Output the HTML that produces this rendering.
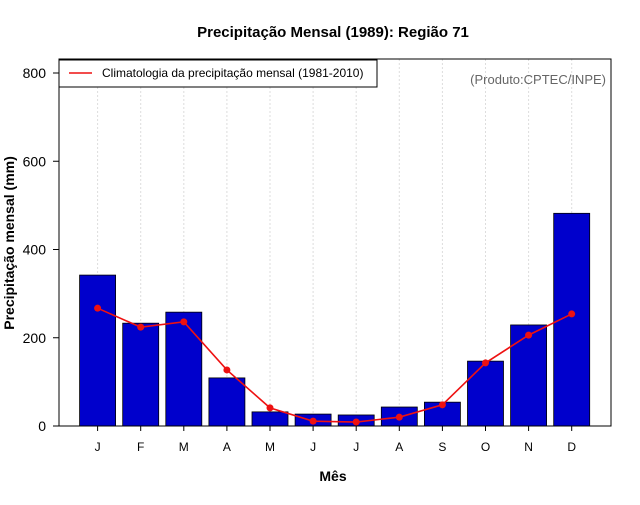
<!DOCTYPE html>
<html><head><meta charset="utf-8"><style>
body{margin:0;background:#fff;}
svg text{font-family:"Liberation Sans",Arial,sans-serif;}
</style></head><body>
<svg id="chart" width="640" height="500" xmlns="http://www.w3.org/2000/svg">
<text x="333" y="37" text-anchor="middle" font-size="15" font-weight="bold">Precipitação Mensal (1989): Região 71</text>
<g id="grid"></g>
<g id="bars"></g>
<g id="line"></g>
<rect x="59" y="59" width="552" height="367" fill="none" stroke="#000" stroke-width="1"/>
<g id="yaxis"></g>
<g id="xaxis"></g>
<text x="333" y="481" text-anchor="middle" font-size="14" font-weight="bold">Mês</text>
<text transform="translate(14,243) rotate(-90)" text-anchor="middle" font-size="14" font-weight="bold">Precipitação mensal (mm)</text>
<g>
<rect x="59" y="60" width="318" height="27" fill="#fff" stroke="#000"/>
<line x1="69" y1="73" x2="92" y2="73" stroke="#ee1111" stroke-width="1.5"/>
<text x="102" y="77" font-size="12">Climatologia da precipitação mensal (1981-2010)</text>
</g>
<text x="606" y="84" text-anchor="end" font-size="13" fill="#666">(Produto:CPTEC/INPE)</text>
</svg>
<script>
const months=['J','F','M','A','M','J','J','A','S','O','N','D'];
const observed=[342,233,258,109,32,27,25,43,54,147,229,482];
const climatology=[267,224,236,127,41,11,9,20,48,143,206,254];
const yTicks=[0,200,400,600,800];
const NS='http://www.w3.org/2000/svg';
const x=i=>97.6+i*43.1;
const y=v=>426-v*(353/800);
function mk(tag,attrs,parent){const e=document.createElementNS(NS,tag);for(const k in attrs)e.setAttribute(k,attrs[k]);parent.appendChild(e);return e;}
const grid=document.getElementById('grid'),bars=document.getElementById('bars'),line=document.getElementById('line'),ya=document.getElementById('yaxis'),xa=document.getElementById('xaxis');
months.forEach((m,i)=>{
 const g=mk('line',{x1:x(i),x2:x(i),y1:59,y2:426,stroke:'#ddd','stroke-dasharray':'2,2'},grid);
 
 
 const b=mk('rect',{x:x(i)-18,y:y(observed[i]),width:36,height:426-y(observed[i]),fill:'#0000cc',stroke:'#000','stroke-width':0.8},bars);
 
 
 const t=mk('line',{x1:x(i),x2:x(i),y1:426,y2:431,stroke:'#000'},xa);
 
 
 const l=mk('text',{x:x(i),y:451,'text-anchor':'middle','font-size':12},xa);
 l.textContent=m;
 
 
});
const pl=mk('polyline',{points:climatology.map((v,i)=>x(i)+','+y(v)).join(' '),fill:'none',stroke:'#ee1111','stroke-width':1.6},line);


climatology.forEach((v,i)=>{
 const c=mk('circle',{cx:x(i),cy:y(v),r:3.5,fill:'#ee1111'},line);
 
 
});
yTicks.forEach(v=>{
 const t=mk('line',{x1:53,x2:59,y1:y(v),y2:y(v),stroke:'#000'},ya);
 
 
 const l=mk('text',{x:46,y:y(v)+5,'text-anchor':'end','font-size':14},ya);
 l.textContent=v;
 
 
});
</script>
</body></html>
